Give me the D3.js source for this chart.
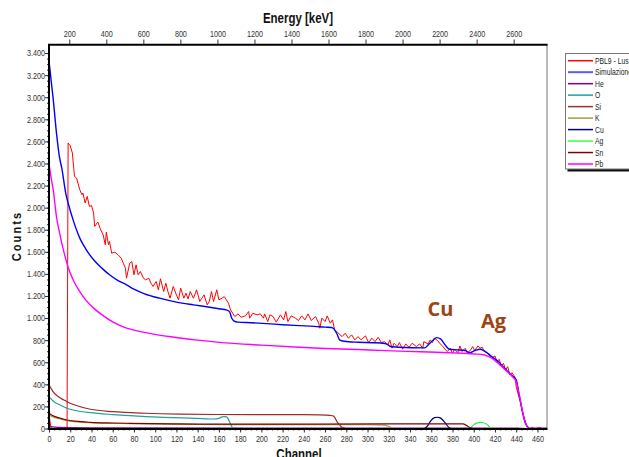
<!DOCTYPE html>
<html>
<head>
<meta charset="utf-8">
<script src="https://cdn.jsdelivr.net/npm/d3@7"></script>
<style>
    body { margin: 0; background: #fff; overflow: hidden; }
    svg { display: block; }
    text { font-family: "Liberation Sans", Arial, sans-serif; }
</style>
</head>
<body>
<svg id="chart" width="629" height="457"></svg>
<script>
// tick values
const channelTicks = [0, 20, 40, 60, 80, 100, 120, 140, 160, 180, 200, 220, 240, 260, 280, 300, 320, 340, 360, 380, 400, 420, 440, 460];
const energyTicks = [200, 400, 600, 800, 1000, 1200, 1400, 1600, 1800, 2000, 2200, 2400, 2600];
const countTicks = [0, 200, 400, 600, 800, 1000, 1200, 1400, 1600, 1800, 2000, 2200, 2400, 2600, 2800, 3000, 3200, 3400];

// legend
const legendNames = ["PBL9 - Lus", "Simulazione", "He", "O", "Si", "K", "Cu", "Ag", "Sn", "Pb"];
const legendColors = ["#ff0000", "#5a5aff", "#800080", "#20a0a0", "#a03030", "#a0a040", "#000080", "#40ff40", "#800000", "#ff40ff"];

// series: [channel, counts]
const measured = [[0,130],[1,60],[2,0],[17,0],[18,2586],[20,2560],[22,2495],[24,2283],[26,2268],[29,2162],[31,2117],[32,2132],[34,2042],[36,2102],[38,2011],[40,2020],[42,1951],[43,1830],[46,1869],[48,1815],[51,1754],[53,1664],[54,1778],[56,1664],[57,1694],[59,1588],[62,1597],[65,1573],[68,1543],[70,1497],[72,1452],[73,1361],[76,1497],[78,1512],[80,1392],[82,1482],[84,1392],[86,1422],[89,1361],[91,1346],[94,1361],[96,1316],[98,1286],[101,1331],[103,1256],[105,1356],[108,1240],[110,1316],[112,1240],[114,1180],[117,1286],[120,1210],[122,1165],[124,1271],[127,1180],[129,1225],[131,1174],[133,1240],[136,1180],[139,1256],[142,1150],[144,1180],[146,1210],[149,1120],[151,1150],[153,1240],[155,1150],[158,1256],[160,1165],[163,1180],[165,1195],[167,1165],[169,1135],[171,1074],[174,1029],
    [175,1014],[178,1038],[181,1008],[185,1020],[188,1059],[189,999],[192,1044],[196,1029],[199,1038],[202,999],[203,1038],[206,968],[208,1029],[211,1014],[214,963],[218,1029],[221,984],[223,1059],[225,968],[228,1020],[232,999],[235,978],[238,1020],[241,984],[244,1038],[247,978],[251,1014],[254,954],[255,908],[257,999],[260,968],[262,1020],[265,954],[267,984],[269,893],[272,869],[276,832],[279,863],[282,818],[285,848],[288,802],[291,832],[294,802],[298,839],[301,778],[304,818],[307,787],[310,826],[313,778],[316,787],[319,757],[321,802],[323,727],[325,772],[328,742],[330,778],[333,718],[336,766],[339,736],[342,772],[346,742],[349,766],[352,727],[353,787],[357,766],[359,802],[361,778],[363,818],[366,796],[368,772],[371,742],[373,718],[375,697],[378,727],[380,681],[382,718],[385,687],[387,748],[389,697],[392,727],[394,681],[397,712],[399,742],[401,705],[404,748],[406,727],[408,736],[410,697],[413,681],[415,657],[418,645],[420,657],[422,606],[424,627],[426,566],[428,590],[430,531],[432,560],[434,485],[436,505],[439,463],[440,379],[442,304],[444,244],[446,153],[448,77],[450,23],[452,0],[455,8],[458,0],[462,10],[465,0],[469,5]];
const simulation = [[0,3330],[2,3150],[4,2980],[7,2680],[10,2450],[12,2360],[16,2120],[18,2042],[23,1880],[29,1724],[35,1620],[42,1528],[50,1450],[57,1392],[65,1340],[73,1301],[80,1262],[90,1220],[104,1180],[120,1145],[136,1120],[150,1100],[160,1085],[167,1074],[170,1060],[172,1000],[174,975],[178,963],[190,958],[205,950],[220,940],[236,932],[250,925],[260,918],[266,915],[268,905],[271,860],[274,800],[278,790],[291,781],[305,777],[316,770],[319,760],[321,745],[324,740],[329,736],[354,730],[357,757],[362,802],[365,823],[369,809],[373,757],[377,718],[385,712],[392,705],[396,687],[401,705],[406,718],[410,703],[417,651],[423,606],[429,546],[437,470],[440,440],[443,290],[446,145],[449,40],[452,3],[453,0],[469,0]];
const he = [[0,20],[10,10],[50,6],[200,4],[440,3],[450,0]];
const oxygen = [[0,289],[5,240],[10,215],[17,183],[25,163],[39,143],[60,126],[76,116],[108,101],[139,92],[155,86],[160,92],[163,105],[166,108],[168,100],[170,62],[173,0]];
const si = [[0,394],[5,320],[10,280],[17,243],[25,210],[39,174],[60,152],[92,138],[123,131],[158,127],[200,125],[240,126],[255,124],[265,118],[268,112],[272,50],[276,10],[280,0]];
const potassium = [[0,125],[5,100],[10,88],[17,72],[39,52],[76,44],[123,38],[170,35],[250,34],[300,34],[316,31],[320,18],[325,0]];
const cu = [[354,0],[357,30],[359,62],[363,98],[366,102],[368,98],[373,53],[376,15],[378,0]];
const ag = [[396,0],[398,15],[401,41],[404,52],[406,56],[409,52],[412,40],[415,15],[417,0]];
const sn = [[0,138],[5,110],[10,95],[17,77],[25,66],[39,56],[60,50],[76,47],[123,41],[170,39],[250,40],[316,41],[390,41],[396,11],[399,0]];
const pb = [[0,2400],[2,2270],[4,2160],[7,1920],[10,1770],[14,1600],[18,1460],[23,1340],[29,1240],[35,1160],[42,1090],[50,1029],[60,965],[70,920],[90,870],[111,835],[140,800],[166,775],[200,755],[236,736],[260,725],[290,715],[316,705],[350,695],[380,685],[400,675],[410,666],[417,636],[423,591],[429,537],[437,464],[440,424],[443,300],[446,150],[449,40],[452,0],[469,0]];

const seriesList = [
    {data: measured, color: "#ff0000", width: 1, curve: d3.curveLinear},
    {data: simulation, color: "#0000ff", width: 1.4, curve: d3.curveMonotoneX},
    {data: he, color: "#800080", width: 1.2, curve: d3.curveMonotoneX},
    {data: oxygen, color: "#20a0a0", width: 1.2, curve: d3.curveMonotoneX},
    {data: si, color: "#a02828", width: 1.2, curve: d3.curveMonotoneX},
    {data: potassium, color: "#a0a040", width: 1.2, curve: d3.curveMonotoneX},
    {data: cu, color: "#000080", width: 1.2, curve: d3.curveMonotoneX},
    {data: ag, color: "#30ee30", width: 1.2, curve: d3.curveMonotoneX},
    {data: sn, color: "#800000", width: 1.2, curve: d3.curveMonotoneX},
    {data: pb, color: "#ff00ff", width: 1.4, curve: d3.curveMonotoneX}
];

const plot = {left: 49, right: 547, top: 44, bottom: 428.5};
const narrow = "scale(0.8,1)";   // Arial Narrow look
let svg = d3.select("#chart");

let x = d3.scaleLinear().domain([0, 469]).range([plot.left, plot.right]);
let xEnergy = d3.scaleLinear().domain([90.5, 2780]).range([plot.left, plot.right]);
let y = d3.scaleLinear().domain([0, 3482]).range([plot.bottom, plot.top]);

let itFormat = d3.formatLocale({decimal: ",", thousands: ".", grouping: [3], currency: ["", "€"]}).format(",d");

svg.append("rect").attr("width", 629).attr("height", 457).attr("fill", "#fff");

// curves
svg.append("clipPath").attr("id", "plotclip")
    .append("rect")
    .attr("x", plot.left).attr("y", plot.top)
    .attr("width", plot.right - plot.left).attr("height", plot.bottom - plot.top);

let curveGroup = svg.append("g").attr("clip-path", "url(#plotclip)");
seriesList.forEach(s => {
    let line = d3.line().x(d => x(d[0])).y(d => y(d[1])).curve(s.curve);
    curveGroup.append("path")
        .datum(s.data)
        .attr("fill", "none")
        .attr("stroke", s.color)
        .attr("stroke-width", s.width)
        .attr("stroke-linejoin", "round")
        .attr("d", line);
});

// axes
function styleAxis(g) {
    g.select(".domain").remove();
    g.selectAll(".tick line").attr("stroke", "#333");
    g.selectAll(".tick text")
        .attr("fill", "#333")
        .attr("transform", narrow)
        .style("font-size", "9px");
}

svg.append("g")
    .attr("transform", `translate(${plot.left},0)`)
    .call(d3.axisLeft(y).tickValues(d3.range(0, 3450, 50)).tickSize(2).tickFormat(""))
    .call(styleAxis);
svg.append("g")
    .attr("transform", `translate(${plot.left},0)`)
    .call(d3.axisLeft(y).tickValues(countTicks).tickSize(4).tickPadding(1).tickFormat(itFormat))
    .call(styleAxis);

svg.append("g")
    .attr("transform", `translate(0,${plot.bottom})`)
    .call(d3.axisBottom(x).tickValues(d3.range(0, 470, 5)).tickSize(2).tickFormat(""))
    .call(styleAxis);
svg.append("g")
    .attr("transform", `translate(0,${plot.bottom})`)
    .call(d3.axisBottom(x).tickValues(channelTicks).tickSize(4).tickPadding(3))
    .call(styleAxis);

svg.append("g")
    .attr("transform", `translate(0,${plot.top})`)
    .call(d3.axisTop(xEnergy).tickValues(energyTicks).tickSize(4.5).tickPadding(3).tickFormat(d3.format("d")))
    .call(styleAxis);

// frame
svg.append("line").attr("x1", plot.right).attr("x2", plot.right).attr("y1", plot.top).attr("y2", plot.bottom)
    .attr("stroke", "#777").attr("stroke-width", 1);
svg.append("line").attr("x1", plot.left - 1).attr("x2", plot.right + 0.5).attr("y1", plot.top + 0.7).attr("y2", plot.top + 0.7)
    .attr("stroke", "#000").attr("stroke-width", 2);
svg.append("line").attr("x1", plot.left - 1).attr("x2", plot.right + 0.5).attr("y1", plot.bottom + 0.5).attr("y2", plot.bottom + 0.5)
    .attr("stroke", "#000").attr("stroke-width", 2);
svg.append("line").attr("x1", plot.left).attr("x2", plot.left).attr("y1", plot.top).attr("y2", plot.bottom + 1.5)
    .attr("stroke", "#000").attr("stroke-width", 2);

// titles
svg.append("g")
    .attr("transform", "translate(298,22.5) " + "scale(0.82,1)")
    .append("text")
    .attr("text-anchor", "middle")
    .style("font-size", "14px").style("font-weight", "bold")
    .attr("fill", "#111")
    .text("Energy [keV]");
svg.append("g")
    .attr("transform", "translate(299,458.5) " + "scale(0.82,1)")
    .append("text")
    .attr("text-anchor", "middle")
    .style("font-size", "14px").style("font-weight", "bold")
    .attr("fill", "#111")
    .text("Channel");
svg.append("g")
    .attr("transform", "translate(21,236) rotate(-90) scale(0.85,1)")
    .append("text")
    .attr("text-anchor", "middle")
    .style("font-size", "13px").style("font-weight", "bold")
    .style("letter-spacing", "2.5px")
    .attr("fill", "#111")
    .text("Counts");

// peak labels
svg.append("text")
    .attr("x", 427.5).attr("y", 315.7)
    .style("font-family", "'Open Sans', sans-serif")
    .style("font-size", "20px").style("font-weight", "bold")
    .attr("fill", "#9e4414")
    .text("Cu");
svg.append("text")
    .attr("x", 481).attr("y", 328.3)
    .style("font-family", "'Open Sans', sans-serif")
    .style("font-size", "20px").style("font-weight", "bold")
    .attr("fill", "#9e4414")
    .text("Ag");

// legend
let legend = svg.append("g").attr("id", "legend");
legend.append("rect")
    .attr("x", 567.5).attr("y", 56)
    .attr("width", 80).attr("height", 115.5)
    .attr("fill", "#111");
legend.append("rect")
    .attr("x", 565.5).attr("y", 53.5)
    .attr("width", 80).attr("height", 115.5)
    .attr("fill", "#fff")
    .attr("stroke", "#777");
legendNames.forEach((name, i) => {
    let ly = 60.7 + i * 11.48;
    legend.append("line")
        .attr("x1", 568).attr("x2", 593)
        .attr("y1", ly).attr("y2", ly)
        .attr("stroke", legendColors[i])
        .attr("stroke-width", i === 1 || i === 9 ? 2 : 1.5);
    legend.append("g")
        .attr("transform", `translate(595,${ly + 3}) ${narrow}`)
        .append("text")
        .style("font-size", "8.5px")
        .attr("fill", "#222")
        .text(name);
});
</script>
</body>
</html>
